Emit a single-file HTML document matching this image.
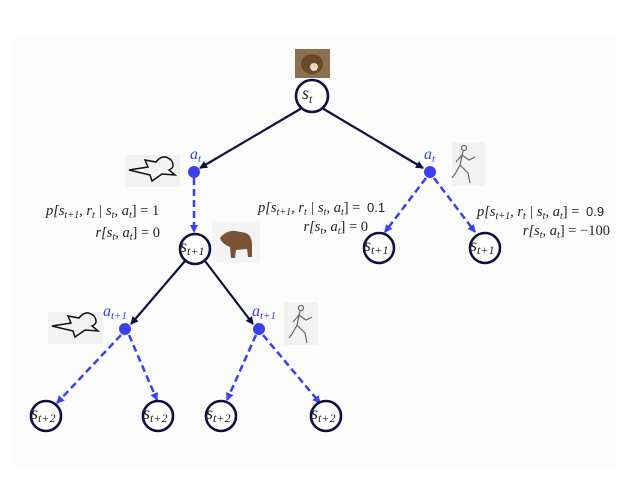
<!DOCTYPE html>
<html><head><meta charset="utf-8"><style>
html,body{margin:0;padding:0;background:#fff;width:640px;height:480px;overflow:hidden}
text{font-family:"Liberation Serif","DejaVu Serif",serif}
</style></head><body>
<svg width="640" height="480" viewBox="0 0 640 480" xmlns="http://www.w3.org/2000/svg">
<defs>
<marker id="ak" markerWidth="8" markerHeight="8" refX="7" refY="4" orient="auto" markerUnits="userSpaceOnUse"><path d="M0,0 L8,4 L0,8 z" fill="#0f1040"/></marker>
<marker id="ab" markerWidth="8" markerHeight="8" refX="7" refY="4" orient="auto" markerUnits="userSpaceOnUse"><path d="M0,0 L8,4 L0,8 z" fill="#3a3ff0"/></marker>
</defs>
<rect x="13" y="38" width="604" height="429" fill="#fcfcfc"/>
<g stroke="#0f1040" stroke-width="2.2" fill="none" marker-end="url(#ak)">
<line x1="302" y1="108" x2="200" y2="168"/>
<line x1="322" y1="108" x2="423" y2="168"/>
<line x1="185" y1="261" x2="131" y2="324"/>
<line x1="205" y1="261" x2="253" y2="324"/>
</g>
<g stroke="#3a3ff0" stroke-width="2.5" fill="none" stroke-dasharray="7,4" marker-end="url(#ab)">
<line x1="194" y1="178" x2="194" y2="232"/>
<line x1="426" y1="178" x2="385" y2="232"/>
<line x1="434" y1="178" x2="475" y2="232"/>
<line x1="121" y1="335" x2="57" y2="403"/>
<line x1="129" y1="335" x2="157" y2="400"/>
<line x1="256" y1="335" x2="227" y2="400"/>
<line x1="263" y1="335" x2="320" y2="403"/>
</g>
<g fill="#3a3ff0">
<circle cx="194" cy="172" r="6"/><circle cx="430" cy="172" r="6"/>
<circle cx="125" cy="329" r="6"/><circle cx="259" cy="329" r="6"/>
</g>
<g fill="#3a3ff0" font-style="italic" font-size="16">
<text x="190" y="159">a<tspan font-size="11" dy="3">t</tspan></text>
<text x="424" y="159">a<tspan font-size="11" dy="3">t</tspan></text>
<text x="103" y="316">a<tspan font-size="11" dy="3">t+1</tspan></text>
<text x="252" y="316">a<tspan font-size="11" dy="3">t+1</tspan></text>
</g>
<g stroke="#0f1040" stroke-width="2.6" fill="#fff">
<circle cx="312" cy="96" r="16"/>
<circle cx="195" cy="249" r="15"/><circle cx="379" cy="248" r="15"/><circle cx="485" cy="248" r="15"/>
<circle cx="46" cy="416" r="15"/><circle cx="158" cy="416" r="15"/><circle cx="221" cy="416" r="15"/><circle cx="326" cy="416" r="15"/>
</g>
<g fill="#222" font-style="italic" font-size="18">
<text x="302" y="99">s<tspan font-size="12" dy="4">t</tspan></text>
<text x="180" y="252">s<tspan font-size="12" dy="3">t+1</tspan></text>
<text x="364" y="251">s<tspan font-size="12" dy="3">t+1</tspan></text>
<text x="470" y="251">s<tspan font-size="12" dy="3">t+1</tspan></text>
<text x="31" y="419">s<tspan font-size="12" dy="3">t+2</tspan></text>
<text x="143" y="419">s<tspan font-size="12" dy="3">t+2</tspan></text>
<text x="206" y="419">s<tspan font-size="12" dy="3">t+2</tspan></text>
<text x="311" y="419">s<tspan font-size="12" dy="3">t+2</tspan></text>
</g>
<g fill="#222" font-size="14.5">
<text x="46" y="215" font-style="italic">p[s<tspan font-size="10" dy="3">t+1</tspan><tspan dy="-3">, r</tspan><tspan font-size="10" dy="3">t</tspan><tspan dy="-3"> | s</tspan><tspan font-size="10" dy="3">t</tspan><tspan dy="-3">, a</tspan><tspan font-size="10" dy="3">t</tspan><tspan dy="-3" font-style="normal">] = 1</tspan></text>
<text x="160" y="237" text-anchor="end" font-style="italic">r[s<tspan font-size="10" dy="3">t</tspan><tspan dy="-3">, a</tspan><tspan font-size="10" dy="3">t</tspan><tspan dy="-3" font-style="normal">] = 0</tspan></text>
<text x="258" y="212" font-style="italic">p[s<tspan font-size="10" dy="3">t+1</tspan><tspan dy="-3">, r</tspan><tspan font-size="10" dy="3">t</tspan><tspan dy="-3"> | s</tspan><tspan font-size="10" dy="3">t</tspan><tspan dy="-3">, a</tspan><tspan font-size="10" dy="3">t</tspan><tspan dy="-3" font-style="normal">] = </tspan><tspan font-family="Liberation Sans" font-style="normal" font-size="13" dx="3">0.1</tspan></text>
<text x="368" y="231" text-anchor="end" font-style="italic">r[s<tspan font-size="10" dy="3">t</tspan><tspan dy="-3">, a</tspan><tspan font-size="10" dy="3">t</tspan><tspan dy="-3" font-style="normal">] = 0</tspan></text>
<text x="477" y="216" font-style="italic">p[s<tspan font-size="10" dy="3">t+1</tspan><tspan dy="-3">, r</tspan><tspan font-size="10" dy="3">t</tspan><tspan dy="-3"> | s</tspan><tspan font-size="10" dy="3">t</tspan><tspan dy="-3">, a</tspan><tspan font-size="10" dy="3">t</tspan><tspan dy="-3" font-style="normal">] = </tspan><tspan font-family="Liberation Sans" font-style="normal" font-size="13" dx="3">0.9</tspan></text>
<text x="610" y="235" text-anchor="end" font-style="italic">r[s<tspan font-size="10" dy="3">t</tspan><tspan dy="-3">, a</tspan><tspan font-size="10" dy="3">t</tspan><tspan dy="-3" font-style="normal">] = −100</tspan></text>
</g>
<rect x="295" y="49" width="35" height="29" fill="#8a7050"/>
<ellipse cx="312" cy="64" rx="11" ry="10" fill="#6b4a2a"/>
<ellipse cx="314" cy="67" rx="4" ry="4" fill="#e8d8c0"/>
<rect x="212" y="221" width="48" height="42" fill="#f4f4f4"/>
<path d="M220,238 Q228,228 240,232 Q252,232 252,245 L252,257 L248,257 L247,249 L236,250 L235,258 L231,258 L230,247 Q222,244 220,238z" fill="#7a5236"/>
<g fill="#f2f2f2"><rect x="125" y="155" width="55" height="32"/><rect x="48" y="312" width="55" height="32"/></g>
<g fill="none" stroke="#111" stroke-width="1.5">
<path d="M129,170 L148,167 L145,160 L156,162 Q163,153 171,160 Q176,167 169,170 L175,175 L162,174 L152,181 L150,175 Z"/>
<path d="M52,326 L71,323 L68,316 L79,318 Q86,309 94,316 Q99,323 92,326 L98,331 L85,330 L75,337 L73,331 Z"/>
</g>
<g fill="#f2f2f2"><rect x="452" y="142" width="33" height="44"/><rect x="284" y="302" width="34" height="43"/></g>
<g fill="none" stroke="#666" stroke-width="1.2">
<circle cx="464" cy="148" r="2.5"/><path d="M463,151 L460,165 L468,173 L470,183 M460,165 L455,174 L452,178 M462,155 L469,160 L475,157 M462,155 L456,162"/>
<circle cx="301" cy="308" r="2.5"/><path d="M300,311 L297,325 L305,333 L307,343 M297,325 L292,334 L289,338 M299,315 L306,320 L312,317 M299,315 L293,322"/>
</g>
</svg>
</body></html>
